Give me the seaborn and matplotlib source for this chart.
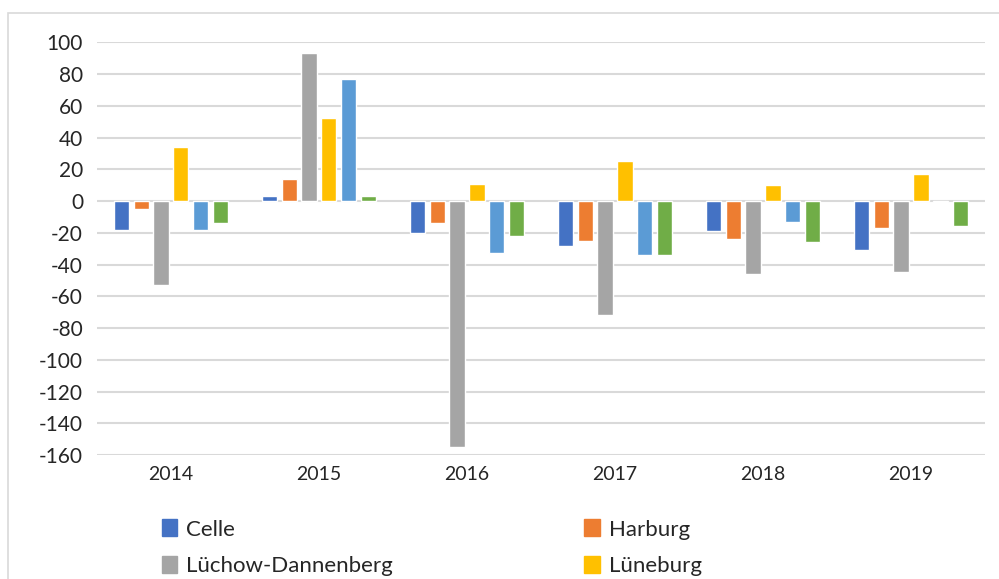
import seaborn as sns
import pandas as pd
import matplotlib.pyplot as plt
from matplotlib.patches import Patch, Rectangle

years = ["2014", "2015", "2016", "2017", "2018", "2019"]
celle = [-18, 3, -20, -28, -19, -31]
harburg = [-5, 14, -14, -25, -24, -17]
luechow = [-53, 93, -155, -72, -46, -45]
lueneburg = [34, 52, 11, 25, 10, 17]
uelzen = [-18, 77, -33, -34, -13, -0.5]
heidekreis = [-14, 3, -22, -34, -26, -16]

series = ["Celle", "Harburg", "Lüchow-Dannenberg", "Lüneburg", "Uelzen", "Heidekreis"]
colors = ["#4472C4", "#ED7D31", "#A5A5A5", "#FFC000", "#5B9BD5", "#70AD47"]

df = pd.DataFrame({"Jahr": years, "Celle": celle, "Harburg": harburg,
                   "Lüchow-Dannenberg": luechow, "Lüneburg": lueneburg,
                   "Uelzen": uelzen, "Heidekreis": heidekreis})
long = df.melt(id_vars="Jahr", var_name="Kreis", value_name="Wert")

sns.set_style("white")
plt.rcParams['font.family'] = ['Lato', 'DejaVu Sans']
plt.rcParams['axes.unicode_minus'] = False

fig = plt.figure(figsize=(9.99, 5.79), dpi=100)
ax = fig.add_axes([0.097, 0.214, 0.889, 0.713])

sns.barplot(data=long, x="Jahr", y="Wert", hue="Kreis", hue_order=series,
            palette=colors, width=0.8, gap=0.22, ax=ax, legend=False,
            saturation=1, errorbar=None)

ax.set_ylim(-160, 100)
ax.set_xlim(-0.5, 5.5)
ax.set_yticks(range(-160, 101, 20))
ax.yaxis.grid(True, color="#D9D9D9", linewidth=1.5)
ax.set_axisbelow(True)
for s in ax.spines.values():
    s.set_visible(False)
ax.set_xlabel("")
ax.set_ylabel("")
ax.tick_params(axis="y", labelsize=15, length=0, pad=10)
ax.tick_params(axis="x", labelsize=14, length=0, pad=8)

# chart border like the Excel frame
fig.patches.append(Rectangle((8 / 999, -0.1), 1.2, 1 - 13 / 579 + 0.1,
                             transform=fig.transFigure, fill=False,
                             edgecolor="#D9D9D9", linewidth=1.2))

order = [0, 2, 1, 3]
handles = [Patch(color=colors[i]) for i in order]
labels = [series[i] for i in order]
fig.legend(handles, labels, ncol=2, loc="upper left",
           bbox_to_anchor=(0.162, 0.103), frameon=False, fontsize=16,
           handlelength=0.7, handleheight=0.8, handletextpad=0.4,
           columnspacing=8.6, labelspacing=0.72, borderpad=0, borderaxespad=0)

fig.savefig("out.png", dpi=100)
